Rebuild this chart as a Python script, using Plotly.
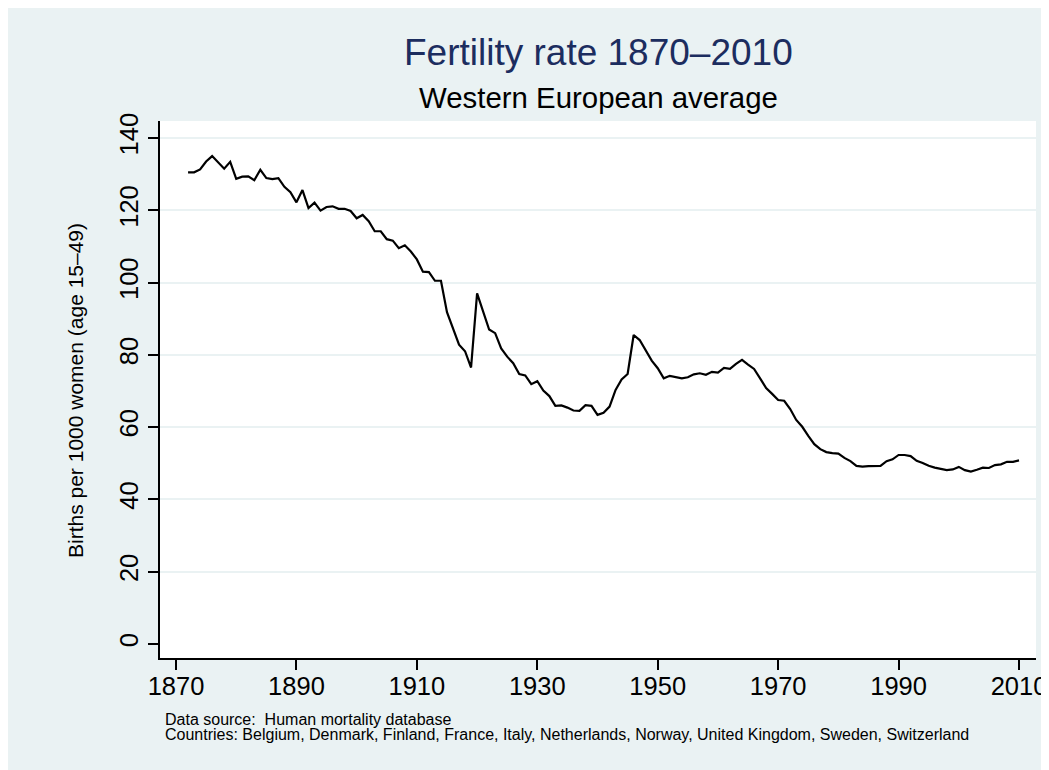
import plotly.graph_objects as go

# years and births per 1000 women (age 15-49)
years = list(range(1872, 2011))
births = [
    130.5, 130.5, 131.3, 133.5, 135.0, 133.2, 131.5, 133.4, 128.7, 129.3,   # 1872-1881
    129.4, 128.3, 131.2, 128.9, 128.6, 128.9, 126.5, 125.0, 122.2, 125.6,   # 1882-1891
    120.6, 122.1, 119.9, 120.9, 121.1, 120.4, 120.4, 119.8, 117.8, 118.7,   # 1892-1901
    117.0, 114.2, 114.2, 112.0, 111.6, 109.5, 110.3, 108.6, 106.4, 103.0,   # 1902-1911
    102.9, 100.5, 100.5, 91.8, 87.0, 82.8, 81.0, 76.5, 97.0, 92.0,          # 1912-1921
    87.0, 86.0, 81.8, 79.5, 77.7, 74.7, 74.3, 71.9, 72.7, 70.1,             # 1922-1931
    68.6, 65.9, 66.0, 65.4, 64.6, 64.5, 66.1, 65.9, 63.4, 64.0,             # 1932-1941
    65.7, 70.3, 73.2, 74.7, 85.5, 84.1, 81.3, 78.4, 76.3, 73.5,             # 1942-1951
    74.2, 73.9, 73.5, 73.8, 74.6, 74.9, 74.5, 75.3, 75.1, 76.4,             # 1952-1961
    76.1, 77.5, 78.6, 77.3, 76.1, 73.5, 70.8, 69.2, 67.5, 67.3,             # 1962-1971
    65.0, 62.0, 60.1, 57.6, 55.3, 53.9, 53.1, 52.8, 52.7, 51.5,             # 1972-1981
    50.6, 49.3, 49.1, 49.2, 49.3, 49.3, 50.6, 51.1, 52.3, 52.3,             # 1982-1991
    52.0, 50.7, 50.1, 49.3, 48.8, 48.4, 48.1, 48.3, 49.0, 48.1,             # 1992-2001
    47.7, 48.2, 48.8, 48.7, 49.5, 49.7, 50.4, 50.4, 50.8,                   # 2002-2010
]

x_ticks = [1870, 1890, 1910, 1930, 1950, 1970, 1990, 2010]
y_ticks = [0, 20, 40, 60, 80, 100, 120, 140]
grid_vals = [20, 40, 60, 80, 100, 120, 140]

title = "Fertility rate 1870\u20132010"
subtitle = "Western European average"
y_title = "Births per 1000 women (age 15\u201349)"
note1 = "Data source:\u00a0 Human mortality database"
note2 = ("Countries: Belgium, Denmark, Finland, France, Italy, Netherlands, "
         "Norway, United Kingdom, Sweden, Switzerland")

FONT = "Liberation Sans, Arial, sans-serif"
BG = "#eaf2f3"

fig = go.Figure()
fig.add_trace(go.Scatter(x=years, y=births, mode="lines",
                         line=dict(color="black", width=2.2),
                         showlegend=False, hoverinfo="x+y"))

# the page body adds an 8px margin, so the figure is 8px smaller
W, H = 1041, 762
L, R, T, B = 152, 13, 113, 112
pw, ph = W - L - R, H - T - B


def px(x):
    # page x position -> paper coordinate
    return (x - 8 - L) / pw


def py(y):
    # page y position -> paper coordinate
    return (H - B - (y - 8)) / ph


fig.update_layout(
    width=W, height=H,
    margin=dict(l=L, r=R, t=T, b=B, autoexpand=False),
    paper_bgcolor=BG, plot_bgcolor="white",
    font=dict(family=FONT, color="black"),
    xaxis=dict(range=[1867.34, 2012.82], tickmode="array", tickvals=x_ticks,
               showgrid=False, zeroline=False, showline=True,
               linecolor="black", linewidth=1.5, ticks="outside",
               ticklen=10, tickwidth=1.5, tickcolor="black",
               ticklabelstandoff=-5,
               tickfont=dict(size=25.5, color="black")),
    yaxis=dict(range=[-3.87, 144.7], tickmode="array", tickvals=y_ticks,
               showgrid=False, zeroline=False, showline=True,
               linecolor="black", linewidth=1.5, ticks="outside",
               ticklen=10, tickwidth=1.5, tickcolor="black", tickangle=-90,
               tickfont=dict(size=25.5, color="black"),
               minor=dict(tickmode="array", tickvals=grid_vals, showgrid=True,
                          gridcolor=BG, gridwidth=2, ticklen=0)),
    annotations=[
        dict(text=title, xref="paper", yref="paper", x=0.5, y=py(53),
             xanchor="center", yanchor="middle", showarrow=False,
             font=dict(size=37, color="#1c2d5f")),
        dict(text=subtitle, xref="paper", yref="paper", x=0.5, y=py(97),
             xanchor="center", yanchor="middle", showarrow=False,
             font=dict(size=29.4, color="black")),
        dict(text=y_title, xref="paper", yref="paper", x=px(75), y=py(391),
             xanchor="center", yanchor="middle", textangle=-90,
             showarrow=False, font=dict(size=21, color="black")),
        dict(text=note1, xref="paper", yref="paper", x=px(163), y=py(719.5),
             xanchor="left", yanchor="middle", showarrow=False,
             font=dict(size=16, color="black")),
        dict(text=note2, xref="paper", yref="paper", x=px(163), y=py(734.5),
             xanchor="left", yanchor="middle", showarrow=False,
             font=dict(size=16, color="black")),
    ],
)

fig.write_html("out.html")
